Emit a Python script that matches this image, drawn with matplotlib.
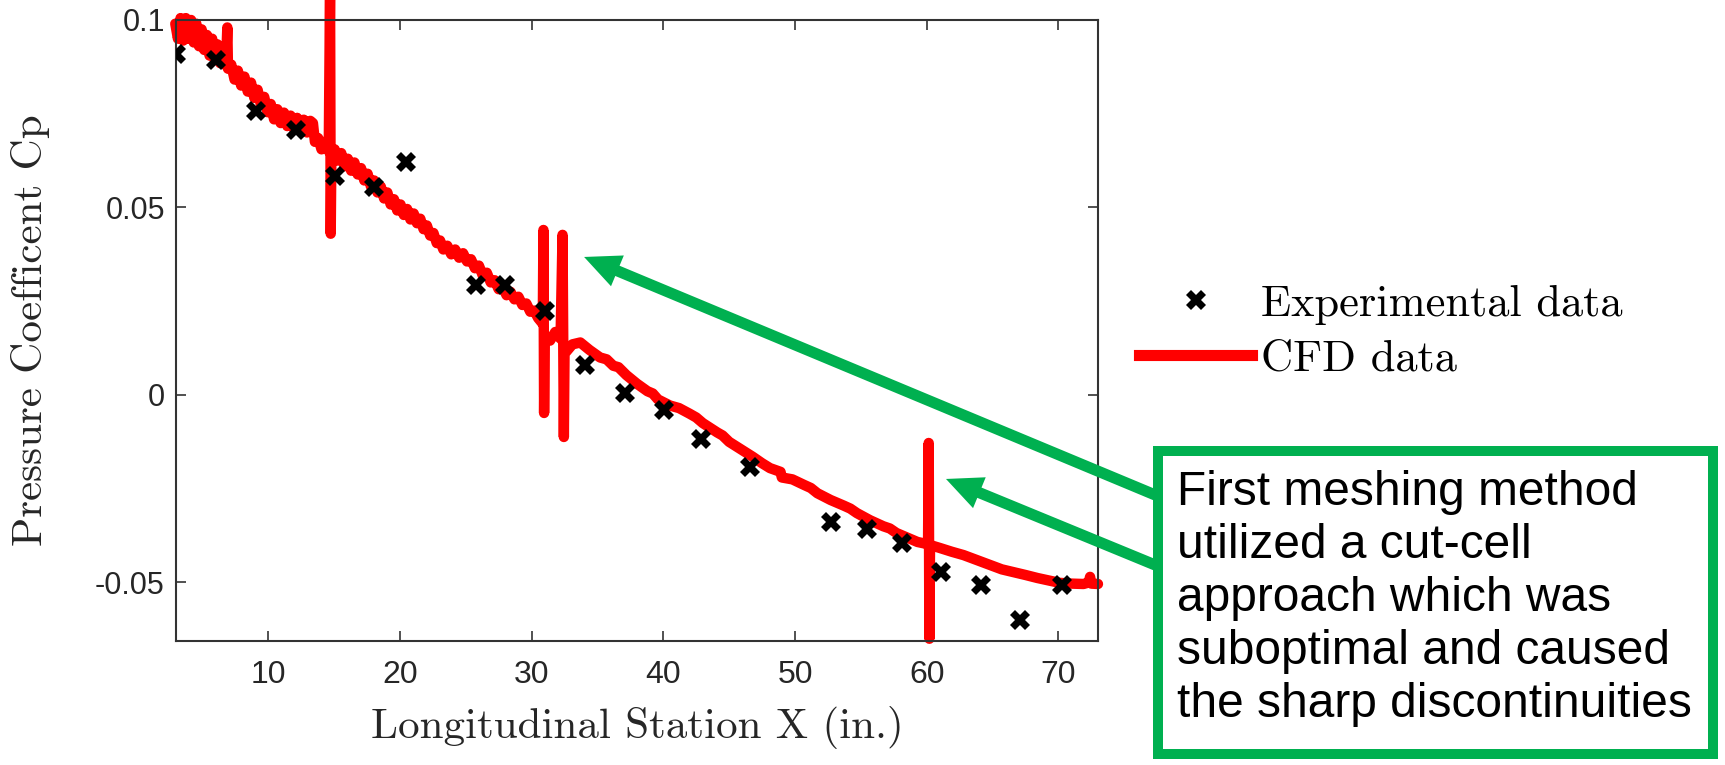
"""
Pressure coefficient: experimental vs CFD (cut-cell meshing)
"""
import matplotlib.pyplot as plt
from matplotlib.patches import Rectangle, FancyArrowPatch
from matplotlib.lines import Line2D

# experimental data
exp_x = [3.0, 6.05, 9.1, 12.1, 15.1, 18.05, 20.5, 25.8, 27.95, 31.0, 34.05, 37.1,
         40.05, 42.9, 46.6, 52.7, 55.5, 58.1, 61.1, 64.1, 67.1, 70.25]
exp_cp = [0.0908, 0.0892, 0.0758, 0.0706, 0.0584, 0.0555, 0.0620, 0.0292, 0.0292,
          0.0223, 0.0081, 0.0005, -0.0041, -0.0117, -0.0191, -0.0340, -0.0357,
          -0.0394, -0.0473, -0.0508, -0.0601, -0.0506]

# CFD data (traced by hand, noisy part at the nose + the cut-cell spikes)
cfd_x = [2.95, 3.15, 3.35, 3.55, 3.75, 3.95, 4.15, 4.35, 4.55, 4.75, 4.95, 5.15,
         5.35, 5.55, 5.75, 5.95, 6.15, 6.35, 6.55, 6.75, 6.85, 6.9, 6.95,
         7.2, 7.45, 7.7, 7.95, 8.2, 8.45, 8.7, 8.95, 9.2, 9.45, 9.7, 9.95, 10.2,
         10.45, 10.7, 10.95, 11.2, 11.45, 11.7, 11.95, 12.2, 12.45, 12.7, 12.95,
         13.2, 13.4, 13.55, 13.8, 14.05, 14.3, 14.6,
         14.7, 14.75, 14.8,
         15.05, 15.3, 15.55, 15.8, 16.05, 16.3, 16.55, 16.8, 17.05, 17.3, 17.55,
         17.8, 18.05, 18.3, 18.55, 18.8, 19.05, 19.3, 19.55, 19.8, 20.05, 20.3,
         20.55, 20.8, 21.05, 21.3, 21.55, 21.8, 22.05, 22.3, 22.55, 22.8, 23.05,
         23.3, 23.6, 23.9, 24.2, 24.5, 24.8, 25.1, 25.4, 25.7, 26.0, 26.3, 26.6,
         26.9, 27.2, 27.5, 27.8, 28.1, 28.4, 28.7, 29.0, 29.3, 29.6, 29.9, 30.2,
         30.5, 30.85,
         30.9, 30.95, 31.0, 31.4, 31.8, 32.2,
         32.35, 32.45, 32.5, 33.1, 33.7, 34.4, 35.2, 35.7, 36.2, 36.6, 37.2, 38.0,
         38.8, 39.2, 39.6, 40.5, 41.2, 42.0, 42.5, 43.0, 44.1, 44.5, 45.0, 45.9,
         46.8, 47.5, 48.1, 48.9, 49.0, 49.8, 50.7, 51.2, 51.7, 52.7, 53.7, 54.2,
         54.7, 55.7, 56.7, 57.2, 57.7, 58.5, 59.3, 60.1,
         60.15, 60.2, 60.25,
         61.0, 61.9, 62.8, 63.8, 64.8, 65.7, 66.55, 67.5, 68.4, 69.2, 70.1, 71.0,
         71.9, 72.3, 72.4, 72.5, 73.0]
cfd_cp = [0.0990, 0.0950, 0.1005, 0.0945, 0.1005, 0.0950, 0.1000, 0.0940, 0.0990,
          0.0930, 0.0975, 0.0920, 0.0960, 0.0905, 0.0950, 0.0895, 0.0935, 0.0885,
          0.0925, 0.0880, 0.0930, 0.0980, 0.0870,
          0.0881, 0.0841, 0.0865, 0.0825, 0.0849, 0.0809, 0.0833, 0.0792, 0.0814,
          0.0773, 0.0795, 0.0754, 0.0776, 0.0735, 0.0762, 0.0725, 0.0753, 0.0717,
          0.0745, 0.0710, 0.0739, 0.0704, 0.0734, 0.0700, 0.0731, 0.0725, 0.0675,
          0.0685, 0.0655, 0.0675, 0.0650,
          0.1080, 0.0430, 0.0640,
          0.0655, 0.0625, 0.0645, 0.0610, 0.0630, 0.0598, 0.0620, 0.0588, 0.0605,
          0.0572, 0.0590, 0.0556, 0.0572, 0.0540, 0.0556, 0.0524, 0.0540, 0.0508,
          0.0522, 0.0492, 0.0508, 0.0480, 0.0496, 0.0468, 0.0484, 0.0458, 0.0470,
          0.0442, 0.0452, 0.0425, 0.0432, 0.0405, 0.0412, 0.0388, 0.0398, 0.0375,
          0.0388, 0.0366, 0.0378, 0.0356, 0.0362, 0.0338, 0.0345, 0.0318, 0.0326,
          0.0300, 0.0306, 0.0282, 0.0288, 0.0266, 0.0275, 0.0255, 0.0262, 0.0240,
          0.0244, 0.0222, 0.0225, 0.0205, 0.0190,
          0.0440, -0.0048, 0.0150, 0.0145, 0.0168, 0.0150,
          0.0427, -0.0112, 0.0110, 0.0135, 0.0140, 0.0120, 0.0100, 0.0095, 0.0078,
          0.0074, 0.0053, 0.0030, 0.0010, 0.0004, -0.0012, -0.0028, -0.0035,
          -0.0050, -0.0060, -0.0075, -0.0100, -0.0108, -0.0125, -0.0145, -0.0165,
          -0.0182, -0.0195, -0.0205, -0.0220, -0.0225, -0.0240, -0.0248, -0.0262,
          -0.0280, -0.0295, -0.0303, -0.0315, -0.0334, -0.0350, -0.0356, -0.0368,
          -0.0380, -0.0392, -0.0398,
          -0.0128, -0.0650, -0.0400,
          -0.0408, -0.0418, -0.0427, -0.0440, -0.0453, -0.0465, -0.0472, -0.0480,
          -0.0488, -0.0494, -0.0501, -0.0503, -0.0504, -0.0500, -0.0485, -0.0503,
          -0.0504]

x_ticks = [10, 20, 30, 40, 50, 60, 70]
y_ticks = [-0.05, 0, 0.05, 0.1]
y_tick_labels = ['-0.05', '0', '0.05', '0.1']

note_lines = ['First meshing method', 'utilized a cut-cell', 'approach which was',
              'suboptimal and caused', 'the sharp discontinuities']

green = '#00B050'
serif = 'cmr10'
sans = 'Liberation Sans'

fig = plt.figure(figsize=(17.25, 7.65), dpi=100)
ax = fig.add_axes([0.1020, 0.1621, 0.5345, 0.8118])

ax.plot(cfd_x, cfd_cp, color='#FF0000', lw=7.5, solid_capstyle='round',
        solid_joinstyle='round', clip_on=False, zorder=2)
ax.plot(exp_x, exp_cp, linestyle='none', marker='X', ms=15, mew=0,
        color='black', zorder=3)

ax.set_xlim(3, 73)
ax.set_ylim(-0.0656, 0.1)
ax.set_xticks(x_ticks)
ax.set_xticklabels([str(t) for t in x_ticks], fontfamily=sans, fontsize=23)
ax.set_yticks(y_ticks)
ax.set_yticklabels(y_tick_labels, fontfamily=sans, fontsize=22)
ax.tick_params(direction='in', length=7, width=1.2, top=True, right=True,
               color='#333333', labelcolor='#262626')
ax.tick_params(axis='x', pad=14)
ax.tick_params(axis='y', pad=8)
for s in ax.spines.values():
    s.set_linewidth(1.5)
    s.set_color('#333333')

ax.set_xlabel('Longitudinal Station X (in.)', fontfamily=serif, fontsize=31,
              color='#262626')
ax.xaxis.set_label_coords(0.5, -0.105)
ax.set_ylabel('Pressure Coefficent Cp', fontfamily=serif, fontsize=31,
              color='#262626')
ax.yaxis.set_label_coords(-0.137, 0.5)

# legend outside the axes
handles = [Line2D([], [], linestyle='none', marker='X', ms=15, mew=0, color='black'),
           Line2D([], [], color='#FF0000', lw=8)]
fig.legend(handles, ['Experimental data', 'CFD data'], loc='center left',
           bbox_to_anchor=(1139 / 1725, 1 - 332 / 765), frameon=False,
           prop={'family': serif, 'size': 32}, handlelength=2.55,
           handletextpad=0.2, labelspacing=0.32, borderpad=0, borderaxespad=0)

# arrows pointing at the spikes
for tail, tip in [((0.6725, 0.3503), (0.3386, 0.6641)),
                  ((0.6725, 0.2588), (0.5484, 0.3739))]:
    arr = FancyArrowPatch(tail, tip, transform=fig.transFigure,
                          arrowstyle='simple,tail_width=0.8,head_width=2.4,head_length=2.6',
                          mutation_scale=10, fc=green, ec='none', lw=0,
                          shrinkA=0, shrinkB=0, zorder=5)
    fig.add_artist(arr)

# note box
box = Rectangle((0.6713, 0.0144), 0.3217, 0.3961, transform=fig.transFigure,
                fc='white', ec=green, lw=7.2, zorder=6)
fig.add_artist(box)
fig.text(0.6823, 0.2176, '\n'.join(note_lines), fontfamily=sans, fontsize=34.5,
         va='center', ha='left', linespacing=1.23, zorder=7)

plt.savefig('out.png', dpi=100)
